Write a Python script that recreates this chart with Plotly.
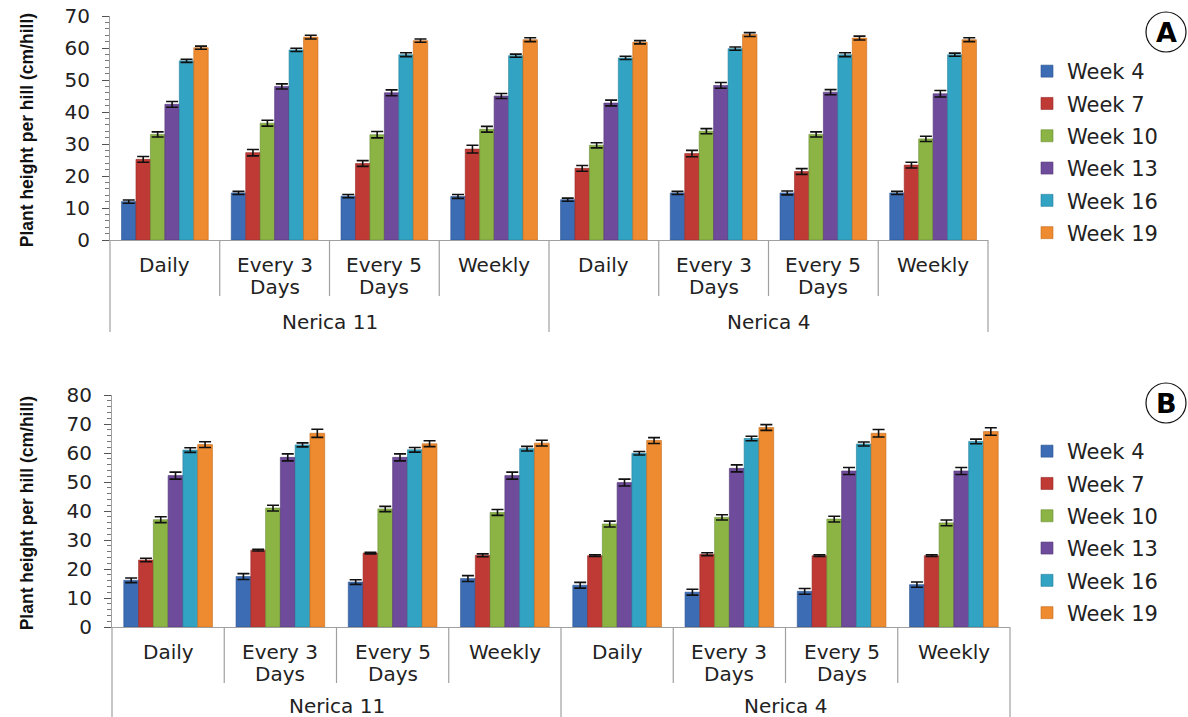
import plotly.graph_objects as go

# ---------------- data ----------------
varieties = ["Nerica 11", "Nerica 11", "Nerica 11", "Nerica 11",
             "Nerica 4", "Nerica 4", "Nerica 4", "Nerica 4"]
regimes = ["Daily", "Every 3<br>Days", "Every 5<br>Days", "Weekly",
           "Daily", "Every 3<br>Days", "Every 5<br>Days", "Weekly"]
weeks = ["Week 4", "Week 7", "Week 10", "Week 13", "Week 16", "Week 19"]

# Panel A values (rows = weeks, columns = categories)
a_w4 = [12.0, 14.7, 13.7, 13.6, 12.6, 14.7, 14.7, 14.7]
a_w7 = [25.2, 27.3, 23.9, 28.4, 22.4, 27.0, 21.4, 23.4]
a_w10 = [33.0, 36.5, 32.9, 34.6, 29.6, 34.0, 33.0, 31.6]
a_w13 = [42.4, 48.0, 46.0, 45.0, 42.8, 48.3, 46.2, 45.7]
a_w16 = [56.0, 59.4, 57.9, 57.6, 56.9, 59.8, 57.9, 57.9]
a_w19 = [60.1, 63.4, 62.3, 62.6, 61.8, 64.2, 63.1, 62.6]

a_e4 = [0.5, 0.5, 0.5, 0.6, 0.5, 0.5, 0.6, 0.5]
a_e7 = [0.9, 1.0, 0.9, 1.2, 0.9, 1.0, 0.9, 0.9]
a_e10 = [0.8, 0.9, 1.0, 0.9, 0.8, 0.8, 0.8, 0.8]
a_e13 = [0.9, 0.8, 0.9, 0.8, 0.9, 0.9, 0.8, 1.0]
a_e16 = [0.5, 0.5, 0.6, 0.5, 0.5, 0.5, 0.6, 0.5]
a_e19 = [0.5, 0.6, 0.5, 0.6, 0.5, 0.6, 0.6, 0.6]

# Panel B values
b_w4 = [16.1, 17.4, 15.5, 16.7, 14.4, 12.0, 12.3, 14.6]
b_w7 = [23.1, 26.5, 25.5, 24.7, 24.6, 25.1, 24.6, 24.6]
b_w10 = [37.0, 41.0, 40.7, 39.5, 35.5, 37.8, 37.2, 35.9]
b_w13 = [52.2, 58.5, 58.5, 52.2, 49.8, 54.7, 53.8, 53.8]
b_w16 = [61.0, 62.8, 61.1, 61.5, 59.9, 65.0, 63.1, 64.0]
b_w19 = [62.9, 66.8, 63.2, 63.4, 64.3, 68.8, 66.8, 67.4]

b_e4 = [0.8, 1.0, 0.8, 1.0, 1.0, 1.0, 1.0, 0.9]
b_e7 = [0.6, 0.3, 0.3, 0.5, 0.3, 0.5, 0.3, 0.3]
b_e10 = [1.0, 1.0, 0.9, 1.0, 1.0, 0.9, 1.0, 1.0]
b_e13 = [1.2, 1.2, 1.2, 1.2, 1.2, 1.2, 1.2, 1.2]
b_e16 = [0.8, 0.7, 0.8, 0.8, 0.6, 0.8, 0.7, 0.8]
b_e19 = [1.0, 1.4, 1.0, 1.0, 1.0, 1.0, 1.3, 1.3]

a_vals = [a_w4, a_w7, a_w10, a_w13, a_w16, a_w19]
a_errs = [a_e4, a_e7, a_e10, a_e13, a_e16, a_e19]
b_vals = [b_w4, b_w7, b_w10, b_w13, b_w16, b_w19]
b_errs = [b_e4, b_e7, b_e10, b_e13, b_e16, b_e19]

colors = ["#3C6DB4", "#C03A35", "#8BB445", "#6F4B9B", "#33A3C3", "#EE8A2F"]
edges = ["#2A5290", "#962A26", "#6A8C32", "#523775", "#237E99", "#C46C1E"]

W, H = 1188, 717
cats = [f"{v}|{r}" for v, r in zip(varieties, regimes)]

# panel geometry (pixels -> paper fractions)
A_px = dict(l=110, r=988, t=16, b=240, outer=82)
B_px = dict(l=112, r=1010, t=395, b=627, outer=79)
A_x = [A_px["l"] / W, A_px["r"] / W]
A_y = [1 - A_px["b"] / H, 1 - A_px["t"] / H]
B_x = [B_px["l"] / W, B_px["r"] / W]
B_y = [1 - B_px["b"] / H, 1 - B_px["t"] / H]

fig = go.Figure()

def add_panel(vals, errs, xa, ya, legend, tag):
    for i, name in enumerate(weeks):
        fig.add_trace(go.Bar(
            x=cats, y=vals[i], name=name,
            marker=dict(color=colors[i], line=dict(color=edges[i], width=0.6)),
            error_y=dict(type="data", array=errs[i], visible=True,
                         color="#111111", thickness=1.6, width=6),
            xaxis=xa, yaxis=ya, legend=legend, legendgroup=f"{tag}{i}",
        ))

add_panel(a_vals, a_errs, "x", "y", "legend", "a")
add_panel(b_vals, b_errs, "x2", "y2", "legend2", "b")

axis_gray = "#A0A0A0"
tickfont = dict(family="DejaVu Sans", size=20, color="#222222")

common_x = dict(type="category", showticklabels=False, showgrid=False,
                showline=True, linecolor=axis_gray, linewidth=1.2, automargin=False,
                ticks="", zeroline=False, fixedrange=True)
common_y = dict(showgrid=False, showline=True, linecolor=axis_gray, linewidth=1.2,
                ticks="outside", ticklen=7, tickcolor="#555555", tickwidth=1,
                tickfont=tickfont, zeroline=False, automargin=False,
                ticklabelstandoff=8, fixedrange=True,
                minor=dict(dtick=2, ticks="outside", ticklen=4,
                           tickcolor="#777777", tickwidth=1))

legend_font = dict(family="DejaVu Sans", size=21, color="#222222")
fig.update_layout(
    width=W, height=H,
    margin=dict(l=0, r=0, t=0, b=0, autoexpand=False),
    paper_bgcolor="white", plot_bgcolor="white",
    barmode="group", bargap=0.21, bargroupgap=0,
    showlegend=True,
    xaxis=dict(domain=A_x, anchor="y", range=[-0.5, 7.5], **common_x),
    yaxis=dict(domain=A_y, anchor="x", range=[0, 70], dtick=10, **common_y),
    xaxis2=dict(domain=B_x, anchor="y2", range=[-0.5, 7.5], **common_x),
    yaxis2=dict(domain=B_y, anchor="x2", range=[0, 80], dtick=10, **common_y),
    legend=dict(x=1027 / W, xanchor="left", y=1 - 51 / H, yanchor="top",
                font=legend_font, tracegroupgap=2,
                bgcolor="rgba(0,0,0,0)", itemclick=False),
    legend2=dict(x=1027 / W, xanchor="left", y=1 - 431 / H, yanchor="top",
                 font=legend_font, tracegroupgap=2,
                 bgcolor="rgba(0,0,0,0)", itemclick=False),
)

shapes = []
annotations = []
label_font = dict(family="DejaVu Sans", size=20, color="#222222")
n = len(cats)
groups = []
for v in varieties:
    if v not in groups:
        groups.append(v)

for xa, ya, px in [("x", "y", A_px), ("x2", "y2", B_px)]:
    dom_h = px["b"] - px["t"]
    ydom = 1 - px["b"] / H
    # separators
    for k in range(n + 1):
        is_outer = k == 0 or k == n or varieties[k - 1] != varieties[k]
        depth = 92 if is_outer else 56
        shapes.append(dict(type="line", xref=f"{xa} domain", yref=f"{ya} domain",
                           x0=k / n, x1=k / n, y0=0, y1=-depth / dom_h,
                           line=dict(color=axis_gray, width=1.2)))
    # inner labels (one annotation per text line)
    for c, r in zip(cats, regimes):
        for li, line in enumerate(r.split("<br>")):
            annotations.append(dict(xref=xa, yref="paper", x=c, y=ydom,
                                    xanchor="center", yanchor="middle",
                                    yshift=-25 - 22 * li, text=line,
                                    showarrow=False, font=label_font))
    # outer labels
    for g in groups:
        idx = [i for i, v in enumerate(varieties) if v == g]
        mid = (idx[0] + idx[-1]) / 2
        annotations.append(dict(xref=xa, yref="paper", x=mid, y=ydom,
                                xanchor="center", yanchor="middle", yshift=-px["outer"],
                                text=g, showarrow=False, font=label_font))
    # y title
    annotations.append(dict(xref="paper", yref=f"{ya} domain", x=27 / W, y=0.49,
                            xanchor="center", yanchor="middle",
                            text="<b>Plant height per hill (cm/hill)</b>", textangle=-90,
                            showarrow=False,
                            font=dict(family="Liberation Sans", size=17.5, color="#111111")))

# panel letters in circles
for letter, cy in [("A", 32), ("B", 403)]:
    shapes.append(dict(type="circle", xref="paper", yref="paper",
                       x0=1146 / W, x1=1186 / W, y0=1 - (cy + 20) / H, y1=1 - (cy - 20) / H,
                       line=dict(color="#111111", width=1.2)))
    annotations.append(dict(xref="paper", yref="paper", x=1166 / W, y=1 - cy / H,
                            xanchor="center", yanchor="middle",
                            text=f"<b>{letter}</b>", showarrow=False,
                            font=dict(family="DejaVu Sans", size=27, color="#000000")))

fig.update_layout(shapes=shapes, annotations=annotations)

fig.write_html("out.html", config={"displayModeBar": False},
               post_script="document.body.style.margin='0';")
